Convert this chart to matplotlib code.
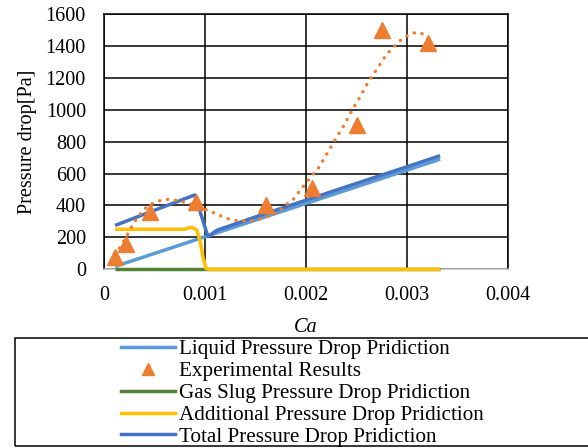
import matplotlib
matplotlib.use("Agg")
import matplotlib.pyplot as plt
from matplotlib.lines import Line2D
from matplotlib.patches import Rectangle

plt.rcParams['font.family'] = ['Liberation Serif', 'DejaVu Serif']

# ---- data ----
exp_ca = [0.00011, 0.000222, 0.000452, 0.000915, 0.00161, 0.00206, 0.00251, 0.00275, 0.00321]
exp_dp = [80, 160, 356, 421, 403, 508, 905, 1500, 1421]

liq_ca = [0.00011, 0.00333]
liq_dp = [18, 690]

gas_ca = [0.00011, 0.00333]
gas_dp = [0, 0]

add_ca = [0.00011, 0.0008, 0.00082, 0.00087, 0.00092, 0.00095, 0.00098, 0.00101, 0.00104, 0.0015, 0.002, 0.0025, 0.003, 0.00333]
add_dp = [251, 251, 257, 263, 246, 184, 79, 6, 0, 0, 0, 0, 0, 0]

tot_ca = [0.00011, 0.0005, 0.0009, 0.00103, 0.00112, 0.0015, 0.002, 0.0025, 0.003, 0.00333]
tot_dp = [275, 370, 466, 205, 245, 328, 433, 538, 642, 712]

trend_ca = [0.00011, 0.000222, 0.000238, 0.000277, 0.000327, 0.00037, 0.00042, 0.000495, 0.000574,
            0.00065, 0.000733, 0.000816, 0.0009, 0.00097, 0.001047, 0.00112, 0.001195, 0.00127,
            0.00135, 0.001436, 0.001515, 0.00159, 0.001667, 0.00174, 0.0018, 0.00187, 0.00192,
            0.00202, 0.00207, 0.00213, 0.00221, 0.00229, 0.00238, 0.00246, 0.00254, 0.00262,
            0.00271, 0.0028, 0.00286, 0.00291, 0.00298, 0.00305, 0.00313, 0.00319, 0.00321]
trend_dp = [90, 204, 226, 271, 320, 355, 389, 418, 434,
            439, 430, 418, 400, 383, 365, 345, 324, 309,
            303, 303, 309, 324, 340, 368, 403, 434, 476,
            555, 595, 639, 725, 811, 905, 999, 1083, 1176,
            1260, 1348, 1386, 1421, 1455, 1480, 1484, 1463, 1455]

x_ticks = [0, 0.001, 0.002, 0.003, 0.004]
x_tick_labels = ["0", "0.001", "0.002", "0.003", "0.004"]
y_ticks = [0, 200, 400, 600, 800, 1000, 1200, 1400, 1600]

labels = ["Liquid Pressure Drop Pridiction", "Experimental Results",
          "Gas Slug Pressure Drop Pridiction", "Additional Pressure Drop Pridiction",
          "Total Pressure Drop Pridiction"]

# ---- figure ----
W, H = 588, 448
fig = plt.figure(figsize=(W / 100, H / 100), dpi=100)
ax = fig.add_axes([104 / W, 1 - 269.3 / H, (507.7 - 104) / W, (269.3 - 14) / H])

FS = 14.6
LFS = 15.2
c_liq = '#5B9BD5'
c_exp = '#ED7D31'
c_gas = '#548235'
c_add = '#FFC000'
c_tot = '#4472C4'
LW = 2.5

ax.plot(liq_ca, liq_dp, color=c_liq, lw=LW, solid_capstyle='butt', zorder=3)
ax.plot(exp_ca, exp_dp, ls='none', marker='^', ms=11, color=c_exp, mec=c_exp, zorder=4)
ax.plot(trend_ca, trend_dp, color=c_exp, lw=2.4, ls=(0, (0.1, 2.3)), dash_capstyle='round', zorder=4)
ax.plot(gas_ca, gas_dp, color=c_gas, lw=LW, solid_capstyle='butt', zorder=3, clip_on=False)
ax.plot(add_ca, add_dp, color=c_add, lw=LW, solid_capstyle='butt', zorder=3, clip_on=False)
ax.plot(tot_ca, tot_dp, color=c_tot, lw=LW, solid_capstyle='butt', zorder=3)

ax.set_xlim(0, 0.004)
ax.set_ylim(0, 1600)
ax.set_xticks(x_ticks)
ax.set_xticklabels(x_tick_labels)
ax.set_yticks(y_ticks)
ax.tick_params(length=0, labelsize=FS)
ax.tick_params(axis='x', pad=12)
ax.tick_params(axis='y', pad=13)
ax.grid(True, color='black', lw=1.1)
ax.set_axisbelow(True)
for s in ['top', 'left', 'right']:
    ax.spines[s].set_color('black')
    ax.spines[s].set_linewidth(1.1)
ax.spines['bottom'].set_color('#BFBFBF')
ax.spines['bottom'].set_linewidth(1.1)

ax.set_ylabel("Pressure drop[Pa]", fontsize=FS, labelpad=6)
fig.text(306 / W, 1 - 327.5 / H, "Ca", fontsize=FS, style='italic', ha='center', va='center')

# legend
handles = [
    Line2D([], [], color=c_liq, lw=LW),
    Line2D([], [], ls='none', marker='^', ms=8.4, color=c_exp),
    Line2D([], [], color=c_gas, lw=LW),
    Line2D([], [], color=c_add, lw=LW),
    Line2D([], [], color=c_tot, lw=LW),
]
fig.legend(handles, labels, loc='upper left', bbox_to_anchor=(120.7 / W, 1 - 339.5 / H),
           frameon=False, fontsize=LFS, borderpad=0, borderaxespad=0,
           handlelength=2.57, handletextpad=0.2, labelspacing=0.1)
fig.patches.append(Rectangle((15 / W, 1 - 445.7 / H), (620 - 15) / W, (445.7 - 338.3) / H,
                             transform=fig.transFigure, fill=False, ec='black', lw=1.1))

fig.savefig("out.png", dpi=100)
